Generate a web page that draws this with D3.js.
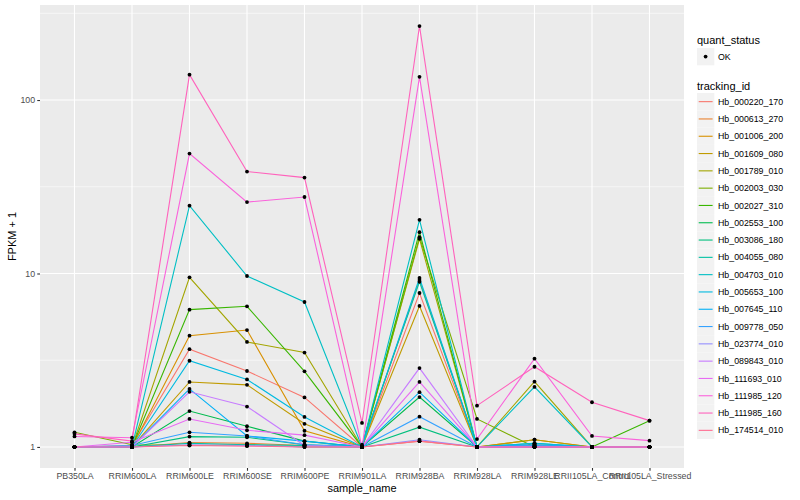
<!DOCTYPE html>
<html><head><meta charset="utf-8">
<script src="https://cdn.jsdelivr.net/npm/d3@7"></script>
<style>body{margin:0;background:#fff}text{font-family:"Liberation Sans",Arial,Helvetica,sans-serif}</style>
</head><body><svg id="c" width="800" height="500"></svg>
<script>
const samples = ["PB350LA","RRIM600LA","RRIM600LE","RRIM600SE","RRIM600PE","RRIM901LA","RRIM928BA","RRIM928LA","RRIM928LE","RRII105LA_Control","RRII105LA_Stressed"];
const trackingIds = ["Hb_000220_170","Hb_000613_270","Hb_001006_200","Hb_001609_080","Hb_001789_010","Hb_002003_030","Hb_002027_310","Hb_002553_100","Hb_003086_180","Hb_004055_080","Hb_004703_010","Hb_005653_100","Hb_007645_110","Hb_009778_050","Hb_023774_010","Hb_089843_010","Hb_111693_010","Hb_111985_120","Hb_111985_160","Hb_174514_010"];
const colors = ["#F8766D","#EA8331","#D89000","#C09B00","#A3A500","#7CAE00","#39B600","#00BB4E","#00BF7D","#00C1A3","#00BFC4","#00BAE0","#00B0F6","#35A2FF","#9590FF","#C77CFF","#E76BF3","#FA62DB","#FF62BC","#FF6C91"];
// FPKM + 1 per sample, one array per tracking id
const hb_000220_170 = [1.00,1.02,3.66,2.74,1.93,1.00,7.72,1.00,1.02,1.00,1.00];
const hb_000613_270 = [1.00,1.00,1.06,1.05,1.02,1.00,1.08,1.00,1.03,1.00,1.00];
const hb_001006_200 = [1.00,1.00,4.38,4.72,1.24,1.00,9.16,1.00,1.10,1.00,1.00];
const hb_001609_080 = [1.00,1.00,2.37,2.28,1.36,1.00,6.50,1.00,1.10,1.00,1.00];
const hb_001789_010 = [1.00,1.00,9.51,4.03,3.50,1.00,15.85,1.00,2.38,1.00,1.00];
const hb_002003_030 = [1.215,1.03,1.02,1.03,1.00,1.00,16.2,1.45,1.00,1.00,1.00];
const hb_002027_310 = [1.00,1.00,6.19,6.47,2.73,1.00,17.3,1.00,1.00,1.00,1.418];
const hb_002553_100 = [1.00,1.00,1.61,1.316,1.08,1.00,1.94,1.00,1.00,1.00,1.00];
const hb_003086_180 = [1.00,1.00,1.147,1.137,1.03,1.00,1.30,1.00,1.00,1.00,1.00];
const hb_004055_080 = [1.00,1.00,1.05,1.03,1.02,1.03,8.95,1.00,1.05,1.00,1.00];
const hb_004703_010 = [1.00,1.00,24.6,9.67,6.85,1.00,20.4,1.00,2.22,1.00,1.00];
const hb_005653_100 = [1.00,1.00,3.14,2.45,1.49,1.00,9.42,1.00,1.05,1.00,1.00];
const hb_007645_110 = [1.00,1.00,2.16,1.157,1.08,1.00,2.07,1.00,1.03,1.00,1.00];
const hb_009778_050 = [1.00,1.02,1.215,1.157,1.03,1.00,1.495,1.00,1.02,1.00,1.00];
const hb_023774_010 = [1.00,1.00,1.03,1.02,1.00,1.00,1.10,1.00,1.00,1.00,1.00];
const hb_089843_010 = [1.00,1.00,2.08,1.71,1.02,1.00,2.85,1.00,1.00,1.00,1.00];
const hb_111693_010 = [1.00,1.065,1.45,1.248,1.17,1.00,2.37,1.00,1.00,1.00,1.00];
const hb_111985_120 = [1.15,1.13,49.1,25.8,27.6,1.00,136,1.11,3.23,1.157,1.087];
const hb_111985_160 = [1.19,1.08,140,38.7,35.7,1.375,267,1.73,2.90,1.81,1.418];
const hb_174514_010 = [1.00,1.00,1.02,1.01,1.00,1.00,1.08,1.00,1.00,1.00,1.00];
const seriesValues = [hb_000220_170,hb_000613_270,hb_001006_200,hb_001609_080,hb_001789_010,hb_002003_030,hb_002027_310,hb_002553_100,hb_003086_180,hb_004055_080,hb_004703_010,hb_005653_100,hb_007645_110,hb_009778_050,hb_023774_010,hb_089843_010,hb_111693_010,hb_111985_120,hb_111985_160,hb_174514_010];
const yTicks = [1,10,100];
const yMinor = [Math.pow(10,0.5),Math.pow(10,1.5),Math.pow(10,2.5)];

const svg = d3.select("#c");
const P = {l:40,r:684,t:5,b:468};
const x = d3.scalePoint().domain(samples).range([P.l,P.r]).padding(0.6);
const allV = seriesValues.flat();
const lmax = Math.log10(d3.max(allV)), lmin = 0;
const span = lmax - lmin;
const y = d3.scaleLog().domain([Math.pow(10,lmin-0.05*span),Math.pow(10,lmax+0.05*span)]).range([P.b,P.t]);

svg.append("rect").attr("x",P.l).attr("y",P.t).attr("width",P.r-P.l).attr("height",P.b-P.t).attr("fill","#EBEBEB");
const g = svg.append("g");
g.selectAll(".ymin").data(yMinor).enter().append("line").attr("x1",P.l).attr("x2",P.r).attr("y1",d=>y(d)).attr("y2",d=>y(d)).attr("stroke","#fff").attr("stroke-width",0.55);
g.selectAll(".ymaj").data(yTicks).enter().append("line").attr("x1",P.l).attr("x2",P.r).attr("y1",d=>y(d)).attr("y2",d=>y(d)).attr("stroke","#fff").attr("stroke-width",1.1);
g.selectAll(".xmaj").data(samples).enter().append("line").attr("y1",P.t).attr("y2",P.b).attr("x1",d=>x(d)).attr("x2",d=>x(d)).attr("stroke","#fff").attr("stroke-width",1.1);

const line = d3.line().x((d,i)=>x(samples[i])).y(d=>y(d));
seriesValues.forEach((vals,k)=>{
  svg.append("path").datum(vals).attr("d",line).attr("fill","none").attr("stroke",colors[k]).attr("stroke-width",1.1);
});
seriesValues.forEach((vals)=>{
  svg.append("g").selectAll("circle").data(vals).enter().append("circle")
    .attr("cx",(d,i)=>x(samples[i])).attr("cy",d=>y(d)).attr("r",1.9).attr("fill","#000");
});

// axes
const yAxis = d3.axisLeft(y).tickValues(yTicks).tickFormat(d3.format("d")).tickSize(2.75).tickPadding(2.2);
const ya = svg.append("g").attr("transform",`translate(${P.l},0)`).call(yAxis);
const xAxis = d3.axisBottom(x).tickSize(2.75).tickPadding(2.2);
const xa = svg.append("g").attr("transform",`translate(0,${P.b})`).call(xAxis);
[ya,xa].forEach(a=>{
  a.select(".domain").remove();
  a.selectAll(".tick line").attr("stroke","#333").attr("stroke-width",1.1);
  a.selectAll(".tick text").attr("fill","#4D4D4D").style("font-size","8.8px").style("font-family","Liberation Sans, Arial, sans-serif");
});
svg.append("text").attr("x",(P.l+P.r)/2).attr("y",492).attr("text-anchor","middle").style("font-size","11px").attr("fill","#000").text("sample_name");
svg.append("text").attr("transform",`translate(16,${(P.t+P.b)/2}) rotate(-90)`).attr("text-anchor","middle").style("font-size","11px").attr("fill","#000").text("FPKM + 1");

// legend
const L = svg.append("g");
L.append("text").attr("x",697).attr("y",44).style("font-size","11px").text("quant_status");
L.append("rect").attr("x",697).attr("y",48).attr("width",17.3).attr("height",17.3).attr("fill","#F2F2F2");
L.append("circle").attr("cx",705.6).attr("cy",56.6).attr("r",1.9).attr("fill","#000");
L.append("text").attr("x",718).attr("y",59.8).style("font-size","8.8px").text("OK");
L.append("text").attr("x",697).attr("y",90).style("font-size","11px").text("tracking_id");
const items = L.selectAll(".it").data(trackingIds).enter().append("g").attr("transform",(d,i)=>`translate(697,${93+i*17.3})`);
items.append("rect").attr("width",17.3).attr("height",17.3).attr("fill","#F2F2F2");
items.append("line").attr("x1",1.7).attr("x2",15.6).attr("y1",8.65).attr("y2",8.65).attr("stroke",(d,i)=>colors[i]).attr("stroke-width",1.1);
items.append("text").attr("x",21).attr("y",11.8).style("font-size","8.8px").text(d=>d);
</script></body></html>
